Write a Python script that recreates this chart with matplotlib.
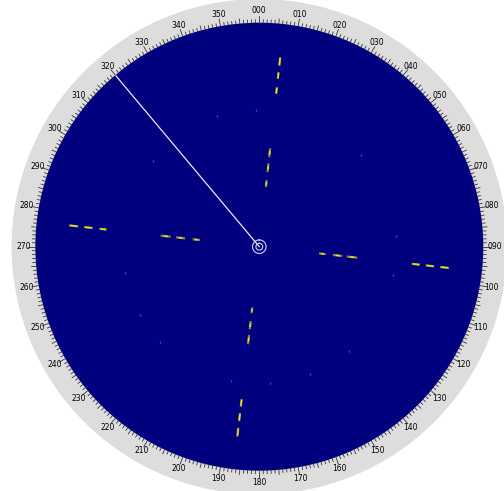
import numpy as np
import matplotlib
matplotlib.use("Agg")
import matplotlib.pyplot as plt
from matplotlib.patches import Circle

# radar picture: bearings in degrees, ranges in display units (edge = 224)
max_range = 224
ring_range = 247
track_bearings = [6.3, 96.4, 186.6, 276.4]
inner_dashes = [
    [(60, 67), (75, 84), (90, 99)],
    [(60, 67), (74, 83.5), (88, 98.6)],
    [(61, 67), (74.8, 83.1), (88.9, 98.2)],
    [(59.6, 67), (74.7, 83.8), (89.2, 99.2)],
]
outer_dashes = [
    [(153.6, 160.6), (168.7, 175.8), (181.8, 190.8)],
    [(153.3, 161.7), (167.4, 176.1), (181.8, 191)],
    [(153.3, 161.1), (167.4, 175.7), (182.2, 191.2)],
    [(153.5, 161), (167.6, 176.4), (182.1, 191.5)],
]
clutter_bearings = [342, 358.6, 308.9, 48, 85.4, 101.9, 258.9, 240.2, 226.2,
                    139.3, 158.1, 191.9, 175.5]
clutter_range = 137
cursor_bearing = 320
own_ship_rings = [3.4, 6.8]
bearing_labels = [f"{d:03d}" for d in range(0, 360, 10)]

fig = plt.figure(figsize=(5.04, 4.91), dpi=100)

# grey bearing ring behind the scope, in pixel coordinates
bg = fig.add_axes([0, 0, 1, 1])
bg.set_xlim(0, 504)
bg.set_ylim(491, 0)
bg.axis("off")
bg.add_patch(Circle((259.3, 246.7), ring_range, color="#dddddd", zorder=0))

cx, cy, rad = 259.3 / 504, 1 - 246.7 / 491, max_range
ax = fig.add_axes([cx - rad / 504, cy - rad / 491, 2 * rad / 504, 2 * rad / 491],
                  projection="polar")
ax.set_facecolor("#010180")
ax.set_theta_zero_location("N")
ax.set_theta_direction(-1)
ax.set_ylim(0, max_range)
ax.set_yticks([])
ax.grid(False)
ax.spines["polar"].set_linewidth(0)

ax.set_xticks(np.deg2rad(np.arange(0, 360, 10)))
ax.set_xticklabels(bearing_labels, fontsize=5.5, color="black")
ax.tick_params(axis="x", which="major", direction="out", length=5,
               width=0, pad=-3.5)

# bearing scale strokes: long every 10 deg, medium every 5, short every 1
for d in range(360):
    th = np.deg2rad(d)
    tick_len = 7 if d % 10 == 0 else (4.5 if d % 5 == 0 else 3)
    ax.plot([th, th], [max_range, max_range + tick_len], color="#333333",
            lw=0.6, clip_on=False, zorder=6)


def draw_dash(theta, r1, r2, core):
    ax.plot([theta, theta], [r1, r2], color="#85834a", lw=1.6,
            solid_capstyle="butt", zorder=3)
    mid = (r1 + r2) / 2
    half = (r2 - r1) * core / 2
    ax.plot([theta, theta], [mid - half, mid + half], color="#ece21a", lw=1.1,
            solid_capstyle="butt", zorder=4)


for brg, inner, outer in zip(track_bearings, inner_dashes, outer_dashes):
    th = np.deg2rad(brg)
    for r1, r2 in inner:
        draw_dash(th, r1, r2, 0.45)
    for r1, r2 in outer:
        draw_dash(th, r1, r2, 0.75)

ax.plot(np.deg2rad(clutter_bearings), [clutter_range] * len(clutter_bearings),
        "s", color="#34348c", ms=1.2, mew=0, zorder=2)

ax.plot([np.deg2rad(cursor_bearing)] * 2, [0, max_range], color="#e8e8ff",
        lw=0.9, zorder=5)
circle_theta = np.linspace(0, 2 * np.pi, 200)
for r in own_ship_rings:
    ax.plot(circle_theta, np.full_like(circle_theta, r), color="#d0d0ff",
            lw=0.8, zorder=5)

fig.savefig("out.png", dpi=100, facecolor="white")
plt.close(fig)
